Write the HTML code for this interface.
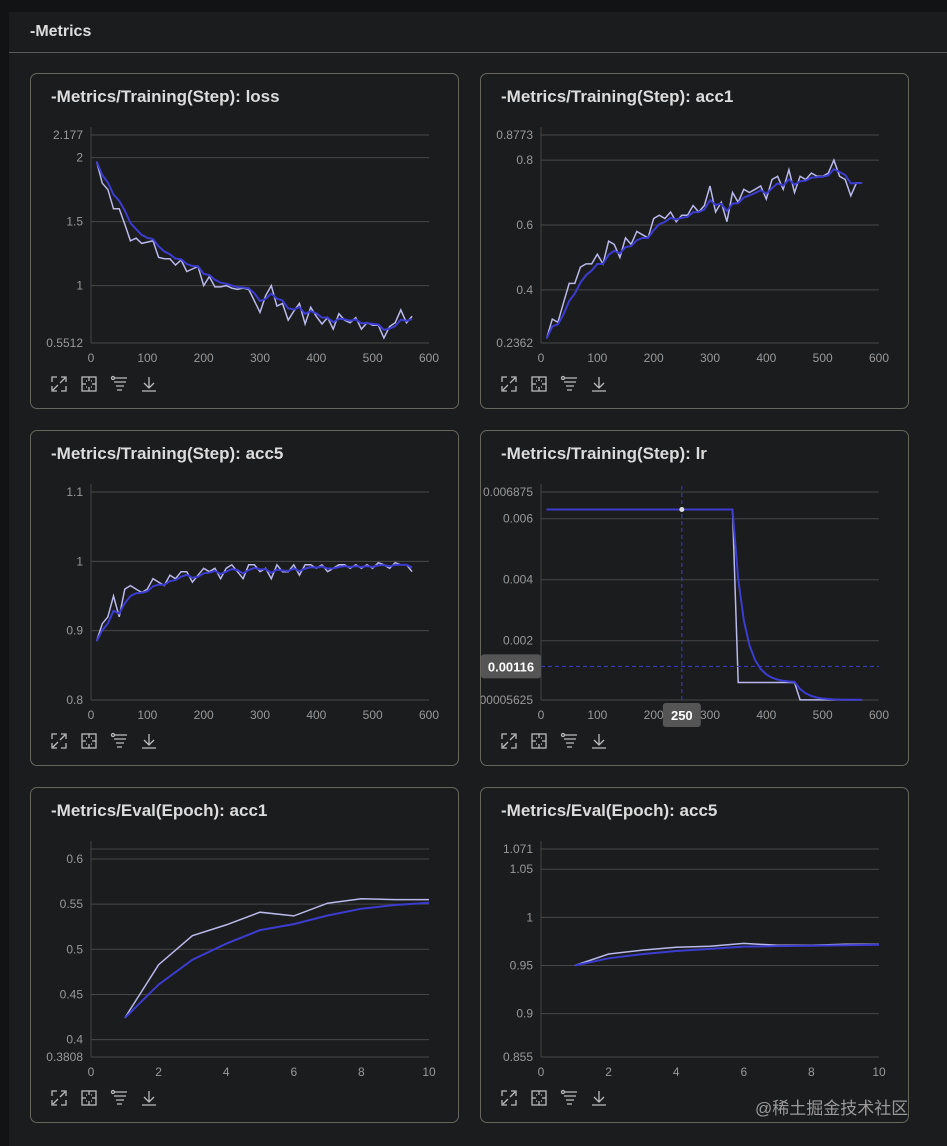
<!DOCTYPE html>
<html><head><meta charset="utf-8">
<style>
html,body{margin:0;padding:0;background:#121314;width:947px;height:1146px;overflow:hidden;font-family:"Liberation Sans","Noto Sans CJK SC",sans-serif;}
#main{position:absolute;left:9px;top:12px;width:938px;height:1134px;background:#1b1c1e;}
#hdr{position:absolute;left:0;top:0;width:938px;height:40px;border-bottom:1px solid #5a5a5a;}
#hdr span{position:absolute;left:21px;top:11px;color:#ddd;font-weight:bold;font-size:16px;}
.panel{position:absolute;width:429px;height:336px;border:1px solid #66665c;border-radius:7px;box-sizing:border-box;}
.panel svg{position:absolute;left:0;top:0;}
#wm{position:absolute;left:755px;top:1094px;color:#9a9a9a;font-size:17px;}
</style></head><body>
<div id="main">
<div id="hdr"><span>-Metrics</span></div>
</div>
<div id="panels"></div>
<div id="wm">@稀土掘金技术社区</div>
<script>
const stepX = [10,20,30,40,50,60,70,80,90,100,110,120,130,140,150,160,170,180,190,200,210,220,230,240,250,260,270,280,290,300,310,320,330,340,350,360,370,380,390,400,410,420,430,440,450,460,470,480,490,500,510,520,530,540,550,560,570];
const lossVals = [1.97,1.80,1.75,1.60,1.60,1.48,1.35,1.37,1.33,1.34,1.35,1.22,1.21,1.21,1.16,1.20,1.11,1.13,1.15,1.00,1.07,0.99,0.99,1.00,0.98,0.97,0.98,0.97,0.88,0.79,0.92,1.00,0.84,0.86,0.73,0.80,0.86,0.70,0.83,0.76,0.70,0.75,0.66,0.78,0.73,0.71,0.75,0.66,0.71,0.69,0.69,0.59,0.68,0.71,0.81,0.71,0.76];
const acc1Vals = [0.25,0.31,0.30,0.36,0.42,0.42,0.47,0.48,0.48,0.51,0.48,0.55,0.54,0.50,0.56,0.54,0.58,0.57,0.56,0.62,0.63,0.62,0.64,0.61,0.63,0.63,0.66,0.64,0.66,0.72,0.64,0.67,0.61,0.70,0.67,0.71,0.70,0.71,0.72,0.68,0.74,0.75,0.71,0.77,0.70,0.75,0.74,0.76,0.75,0.75,0.76,0.80,0.75,0.74,0.69,0.73,0.73];
const acc5Vals = [0.885,0.91,0.92,0.95,0.92,0.96,0.965,0.96,0.955,0.96,0.975,0.97,0.965,0.98,0.975,0.985,0.985,0.97,0.98,0.99,0.985,0.99,0.975,0.99,0.995,0.985,0.975,0.995,0.995,0.985,0.99,0.975,0.995,0.985,0.985,0.995,0.98,0.995,0.995,0.99,0.995,0.985,0.99,0.995,0.995,0.99,0.995,0.99,0.995,0.99,0.998,0.995,0.99,0.998,0.995,0.995,0.985];
const lrVals = [0.0063,0.0063,0.0063,0.0063,0.0063,0.0063,0.0063,0.0063,0.0063,0.0063,0.0063,0.0063,0.0063,0.0063,0.0063,0.0063,0.0063,0.0063,0.0063,0.0063,0.0063,0.0063,0.0063,0.0063,0.0063,0.0063,0.0063,0.0063,0.0063,0.0063,0.0063,0.0063,0.0063,0.0063,0.00063,0.00063,0.00063,0.00063,0.00063,0.00063,0.00063,0.00063,0.00063,0.00063,0.00063,0.00006,0.00006,0.00006,0.00006,0.00006,0.00006,0.00006,0.00006,0.00006,0.00006,0.00006,0.00006];
const epochX = [1,2,3,4,5,6,7,8,9,10];
const evalAcc1Vals = [0.424,0.483,0.515,0.527,0.541,0.537,0.551,0.556,0.555,0.555];
const evalAcc5Vals = [0.950,0.962,0.966,0.969,0.970,0.973,0.971,0.971,0.972,0.972];
const stepTicks = [0,100,200,300,400,500,600];
const epochTicks = [0,2,4,6,8,10];
const lossTicks = [2.177,2,1.5,1,0.5512];
const acc1Ticks = [0.8773,0.8,0.6,0.4,0.2362];
const acc5Ticks = [1.1,1,0.9,0.8];
const lrTicks = [0.006875,0.006,0.004,0.002,0.00005625];
const evalAcc1Ticks = [0.6,0.55,0.5,0.45,0.4,0.3808];
const evalAcc5Ticks = [1.071,1.05,1,0.95,0.9,0.855];

const charts = [
 {name:'loss',title:'-Metrics/Training(Step): loss',x:30,y:73,xs:stepX,ys:lossVals,xt:stepTicks,yt:lossTicks,ymin:0.5512,ymax:2.177,xmax:600},
 {name:'acc1',title:'-Metrics/Training(Step): acc1',x:480,y:73,xs:stepX,ys:acc1Vals,xt:stepTicks,yt:acc1Ticks,ymin:0.2362,ymax:0.8773,xmax:600},
 {name:'acc5',title:'-Metrics/Training(Step): acc5',x:30,y:430,xs:stepX,ys:acc5Vals,xt:stepTicks,yt:acc5Ticks,ymin:0.8,ymax:1.1,xmax:600},
 {name:'lr',title:'-Metrics/Training(Step): lr',x:480,y:430,xs:stepX,ys:lrVals,xt:stepTicks,yt:lrTicks,ymin:0.00005625,ymax:0.006875,xmax:600,cross:[250,0.00116],w:0.6},
 {name:'eval-acc1',title:'-Metrics/Eval(Epoch): acc1',x:30,y:787,xs:epochX,ys:evalAcc1Vals,xt:epochTicks,yt:evalAcc1Ticks,ymin:0.3808,ymax:0.611,xmax:10},
 {name:'eval-acc5',title:'-Metrics/Eval(Epoch): acc5',x:480,y:787,xs:epochX,ys:evalAcc5Vals,xt:epochTicks,yt:evalAcc5Ticks,ymin:0.855,ymax:1.071,xmax:10}
];
const NS='http://www.w3.org/2000/svg';
function mk(tag,attrs,parent){const e=document.createElementNS(NS,tag);for(const k in attrs)e.setAttribute(k,attrs[k]);if(parent)parent.appendChild(e);return e;}
function smooth(v,w){let last=0;return v.map((x,i)=>{last=last*w+(1-w)*x;return last/(1-Math.pow(w,i+1));});}
const host=document.getElementById('panels');
charts.forEach(c=>{
 const p=document.createElement('div');p.className='panel';p.style.left=c.x+'px';p.style.top=c.y+'px';
 
 
 host.appendChild(p);
 const s=mk('svg',{width:429,height:336},p);
 const L=60,R=398,T=61,B=269;
 const X=v=>L+(v/c.xmax)*(R-L);
 const Y=v=>B-(v-c.ymin)/(c.ymax-c.ymin)*(B-T);
 const t=mk('text',{x:20,y:28,fill:'#dcdcdc','font-size':17,'font-weight':'bold'},s);t.textContent=c.title;
 
 
 mk('line',{x1:L,y1:T,x2:R,y2:T,stroke:'#444','stroke-width':1},s);
 c.yt.forEach(v=>{
  mk('line',{x1:L,y1:Y(v),x2:R,y2:Y(v),stroke:'#474747','stroke-width':1},s);
  const tx=mk('text',{x:L-8,y:Y(v)+4,fill:'#999','font-size':12,'text-anchor':'end'},s);tx.textContent=String(v);
  
  
 });
 mk('line',{x1:L,y1:T-8,x2:L,y2:B,stroke:'#444','stroke-width':1},s);
 c.xt.forEach(v=>{
  const tx=mk('text',{x:X(v),y:B+19,fill:'#999','font-size':12,'text-anchor':'middle'},s);tx.textContent=String(v);
  
  
 });
 const raw=c.xs.map((x,i)=>X(x).toFixed(1)+','+Y(c.ys[i]).toFixed(1)).join(' ');
 const rl=mk('polyline',{points:raw,fill:'none',stroke:'#b9b9ec','stroke-width':1.5},s);
 
 
 const sm=smooth(c.ys,c.w||0.6);
 const sp=c.xs.map((x,i)=>X(x).toFixed(1)+','+Y(sm[i]).toFixed(1)).join(' ');
 const sl=mk('polyline',{points:sp,fill:'none',stroke:'#3c3ccf','stroke-width':2},s);
 
 
 if(c.cross){
  const cx=X(c.cross[0]),cy=Y(c.cross[1]);
  mk('line',{x1:cx,y1:T-6,x2:cx,y2:B,stroke:'#3c3ccf','stroke-dasharray':'4,3'},s);
  mk('line',{x1:L,y1:cy,x2:R,y2:cy,stroke:'#3c3ccf','stroke-dasharray':'4,3'},s);
  mk('circle',{cx:cx,cy:Y(0.0063),r:2.5,fill:'#ddd'},s);
  const g1=mk('g',{},s);
  
  
  mk('rect',{x:0,y:cy-12,width:60,height:24,rx:3,fill:'#555'},g1);
  const a=mk('text',{x:30,y:cy+5,fill:'#fff','font-size':13,'font-weight':'bold','text-anchor':'middle'},g1);a.textContent=String(c.cross[1]);
  const g2=mk('g',{},s);
  
  
  mk('rect',{x:cx-19,y:B+3,width:38,height:24,rx:3,fill:'#555'},g2);
  const b=mk('text',{x:cx,y:B+20,fill:'#fff','font-size':13,'font-weight':'bold','text-anchor':'middle'},g2);b.textContent=String(c.cross[0]);
 }
 const names=['expand-icon','fit-icon','filter-icon','download-icon'];
 names.forEach((n,i)=>{
  const g=mk('g',{transform:'translate('+(20+i*30)+',302)',stroke:'#bbb','stroke-width':1.3,fill:'none'},s);
  
  
  if(i==0){mk('path',{d:'M1 6V1H6M10 1h5v5M15 10v5h-5M6 15H1v-5M2 14l5-5M14 2l-5 5'},g);}
  if(i==1){mk('rect',{x:1,y:1,width:14,height:14},g);mk('path',{d:'M8 1v4M8 11v4M1 8h4M11 8h4M5 5h1M10 5h1M5 11h1M10 11h1'},g);}
  if(i==2){mk('circle',{cx:2,cy:2,r:1.5},g);mk('path',{d:'M4 2h12M3 6h12M5 10h8M6 14h5'},g);}
  if(i==3){mk('path',{d:'M8 1v11M3 7l5 5 5-5M1 15h14'},g);}
 });
});
</script>
</body></html>
